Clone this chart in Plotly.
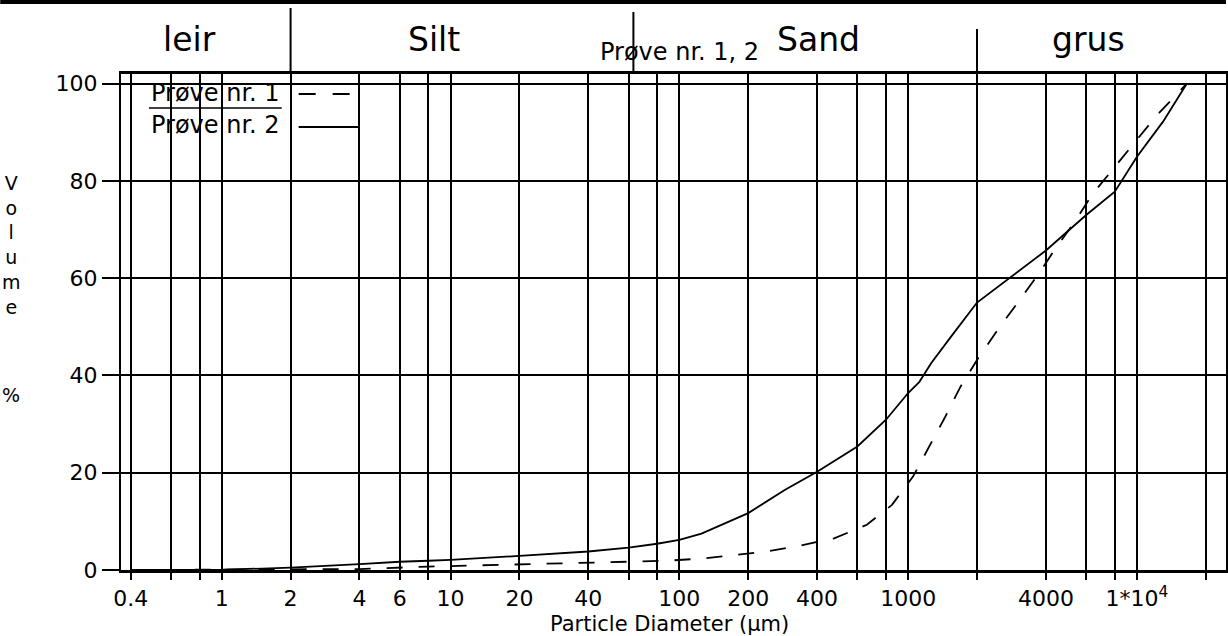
import math
import plotly.graph_objects as go

# ---------------- data ----------------
# Prøve nr. 1 (dashed)
d1 = [0.4, 4, 8, 12, 16, 23, 32, 44, 63, 88, 130, 175, 240, 320, 475, 660, 850,
      1050, 1216, 1445, 1694, 2000, 2430, 2930, 3655, 4360, 5360, 6370, 8000,
      10000, 12270, 16500]
v1 = [0, 0.2, 0.7, 0.9, 1.1, 1.2, 1.35, 1.5, 1.7, 1.9, 2.4, 3.1, 3.8, 4.8, 6.5,
      9.3, 13.4, 19.2, 24.7, 31.3, 37.7, 43.2, 49, 54.2, 60.4, 65.8, 71.7, 77.2,
      83, 88.5, 93.6, 100]

# Prøve nr. 2 (solid)
d2 = [0.4, 1, 1.5, 2, 4, 6, 8, 10, 20, 40, 60, 80, 100, 125, 200, 290, 400, 600,
      800, 1000, 1120, 1260, 1540, 2000, 4000, 6000, 8000, 10000, 13000, 16500]
v2 = [0, 0.05, 0.3, 0.5, 1.2, 1.7, 1.9, 2.1, 2.9, 3.8, 4.6, 5.4, 6.2, 7.5, 11.7,
      16.5, 20.2, 25.4, 30.9, 36.4, 38.7, 42.5, 48, 55, 65.7, 73, 77.8, 85,
      92.2, 100]

x_grid = [0.4, 0.6, 0.8, 1, 2, 4, 6, 8, 10, 20, 40, 60, 80, 100, 200, 400, 600,
          800, 1000, 2000, 4000, 6000, 8000, 10000, 20000]
x_labels = {0.4: "0.4", 1: "1", 2: "2", 4: "4", 6: "6", 10: "10", 20: "20",
            40: "40", 100: "100", 200: "200", 400: "400", 1000: "1000",
            4000: "4000", 10000: "1*10<sup>4</sup>"}
y_ticks = [0, 20, 40, 60, 80, 100]

fractions = ["leir", "Silt", "Sand", "grus"]
fraction_centers = [0.725, 8.5, 406, 6120]
fraction_bounds = [2, 63, 2000]

legend_names = ["Prøve nr. 1", "Prøve nr. 2"]
title_text = "Prøve nr. 1, 2"

# ---------------- figure ----------------
FONT = "DejaVu Sans"
W, H = 1228, 636
L, R, T, B = 121, 0, 74, 66
PW, PH = W - L - R, H - T - B


def px_x(p):
    return (p - L) / PW


def px_y(p):
    return (H - B - p) / PH


fig = go.Figure()
fig.add_trace(go.Scatter(x=d1, y=v1, mode="lines", name=legend_names[0],
                         line=dict(color="black", width=1.8, dash="16px,16px"),
                         showlegend=False))
fig.add_trace(go.Scatter(x=d2, y=v2, mode="lines", name=legend_names[1],
                         line=dict(color="black", width=1.8),
                         showlegend=False))

fig.update_layout(
    width=W, height=H,
    margin=dict(l=L, r=R, t=T, b=B),
    paper_bgcolor="white", plot_bgcolor="white",
    font=dict(family=FONT, color="black", size=22),
    xaxis=dict(
        type="log",
        range=[math.log10(0.363), math.log10(24500)],
        tickmode="array",
        tickvals=x_grid,
        ticktext=[x_labels.get(v, "") for v in x_grid],
        ticks="outside", ticklen=7, tickwidth=1.6, tickcolor="black",
        showgrid=True, gridcolor="black", gridwidth=1.6,
        showline=True, linecolor="black", linewidth=2.6, mirror=True,
        tickfont=dict(family=FONT, size=22, color="black"),
        zeroline=False,
    ),
    yaxis=dict(
        range=[0, 102],
        tickmode="array",
        tickvals=y_ticks,
        ticks="outside", ticklen=17, tickwidth=1.6, tickcolor="black",
        showgrid=True, gridcolor="black", gridwidth=1.6,
        showline=True, linecolor="black", linewidth=2.2, mirror=True,
        tickfont=dict(family=FONT, size=22, color="black"),
        zeroline=False,
    ),
)


def ann(text, x, y, size, xref="paper", xanchor="center", family=FONT):
    return dict(text=text, x=x, y=y, xref=xref, yref="paper", showarrow=False,
                xanchor=xanchor, yanchor="middle",
                font=dict(family=family, size=size, color="black"))


anns = []
anns.append(ann("Particle Diameter (µm)", px_x(670), px_y(624), 21))
anns.append(ann("V<br>o<br>l<br>u<br>m<br>e", px_x(11), px_y(245), 19))
anns.append(ann("%", px_x(11), px_y(395), 19))
anns.append(ann(title_text, px_x(681), px_y(52), 24))
for name, c in zip(fractions, fraction_centers):
    anns.append(ann(name, math.log10(c), px_y(40), 33, xref="x"))
anns.append(ann(legend_names[0], px_x(149), px_y(93), 24, xanchor="left"))
anns.append(ann(legend_names[1], px_x(149), px_y(125), 24, xanchor="left"))
fig.update_layout(annotations=anns)

shapes = []
# top scan line
shapes.append(dict(type="line", xref="paper", yref="paper", x0=px_x(0), x1=px_x(W),
                   y0=px_y(2), y1=px_y(2), line=dict(color="black", width=4)))
# fraction separators (shapes on log axes take raw data values)
sep_tops = [8, 12, 29]
for b, t in zip(fraction_bounds, sep_tops):
    shapes.append(dict(type="line", xref="x", yref="paper", x0=b, x1=b,
                       y0=1.0, y1=px_y(t), line=dict(color="black", width=2)))
# legend underline and samples
shapes.append(dict(type="line", xref="paper", yref="paper", x0=px_x(149), x1=px_x(282),
                   y0=px_y(108), y1=px_y(108), line=dict(color="black", width=1.6)))
shapes.append(dict(type="line", xref="paper", yref="paper", x0=px_x(299), x1=px_x(353),
                   y0=px_y(94), y1=px_y(94),
                   line=dict(color="black", width=1.8, dash="17px,17px")))
shapes.append(dict(type="line", xref="paper", yref="paper", x0=px_x(299), x1=px_x(360),
                   y0=px_y(127), y1=px_y(127), line=dict(color="black", width=1.8)))
fig.update_layout(shapes=shapes)

fig.write_html("out.html", config={"displayModeBar": False},
               post_script="document.body.style.margin='0';document.body.style.overflow='hidden';")
